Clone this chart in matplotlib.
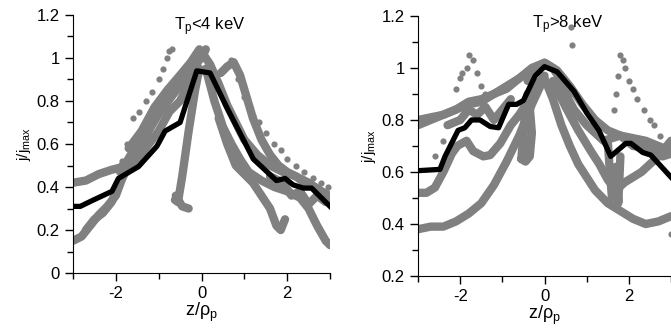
import matplotlib
matplotlib.use("Agg")
import matplotlib.pyplot as plt
from matplotlib.ticker import FixedLocator

plt.rcParams['font.family'] = ['Liberation Sans', 'DejaVu Sans']
plt.rcParams['mathtext.default'] = 'regular'

GRAY = '#808080'

# ---- left panel (Tp < 4 keV) ----
left_avg_x = [-3.0, -2.83, -2.52, -2.09, -1.94, -1.47, -1.04, -0.85, -0.50, -0.11, 0.20, 0.59, 1.21, 1.75, 1.95, 2.14, 2.38, 2.57, 3.0]
left_avg_y = [0.31, 0.31, 0.34, 0.38, 0.44, 0.495, 0.59, 0.66, 0.70, 0.94, 0.93, 0.77, 0.53, 0.43, 0.44, 0.41, 0.395, 0.395, 0.31]

left_curves = [
    ([-3, -2.7, -2.4, -2.1, -1.9, -1.7, -1.5, -1.3, -1.1, -0.9, -0.7, -0.5, -0.3, -0.1, 0.0],
     [0.42, 0.43, 0.46, 0.48, 0.49, 0.52, 0.57, 0.64, 0.71, 0.77, 0.83, 0.9, 0.96, 1.02, 1.03]),
    ([-3, -2.8, -2.6, -2.4, -2.2, -2.0, -1.85, -1.7, -1.5],
     [0.15, 0.17, 0.22, 0.27, 0.31, 0.36, 0.44, 0.5, 0.56]),
    ([-2.7, -2.5, -2.3, -2.1, -1.9],
     [0.2, 0.25, 0.28, 0.33, 0.42]),
    ([-1.9, -1.6, -1.3, -1.0, -0.7, -0.4, -0.2, 0.0, 0.1],
     [0.47, 0.55, 0.64, 0.74, 0.82, 0.9, 0.96, 1.0, 1.04]),
    ([-1.8, -1.5, -1.2, -0.9, -0.6, -0.35, -0.15, 0.05],
     [0.5, 0.6, 0.7, 0.8, 0.87, 0.92, 0.98, 1.02]),
    ([-1.7, -1.4, -1.1, -0.8, -0.5, -0.25, -0.05],
     [0.58, 0.66, 0.77, 0.85, 0.92, 0.98, 1.04]),
    ([-1.6, -1.3, -1.0, -0.75, -0.5, -0.3, -0.1],
     [0.5, 0.58, 0.66, 0.75, 0.8, 0.88, 0.97]),
    ([-0.62, -0.55, -0.45, -0.3, -0.15, -0.05],
     [0.34, 0.33, 0.45, 0.66, 0.85, 0.95]),
    ([-0.6, -0.45, -0.3], [0.36, 0.31, 0.3]),
    ([0.0, 0.2, 0.4, 0.6, 0.8, 1.0, 1.3, 1.6, 1.9, 2.2, 2.5, 2.8, 3.0],
     [1.03, 0.97, 0.88, 0.78, 0.7, 0.62, 0.55, 0.5, 0.47, 0.45, 0.42, 0.38, 0.35]),
    ([0.1, 0.3, 0.5, 0.7, 0.9, 1.1, 1.4, 1.7, 2.0, 2.3, 2.5, 2.7, 2.9, 3.0],
     [0.95, 0.8, 0.68, 0.6, 0.53, 0.47, 0.43, 0.4, 0.38, 0.35, 0.3, 0.22, 0.15, 0.13]),
    ([0.4, 0.6, 0.8, 1.0, 1.2, 1.4, 1.6, 1.75, 1.85, 1.95],
     [0.72, 0.6, 0.5, 0.46, 0.42, 0.36, 0.3, 0.22, 0.2, 0.25]),
    ([0.45, 0.6, 0.75, 0.9, 1.05, 1.2, 1.4, 1.6, 1.8, 2.0, 2.2, 2.4, 2.6, 2.8, 3.0],
     [0.93, 0.96, 0.98, 0.92, 0.82, 0.72, 0.62, 0.55, 0.5, 0.47, 0.45, 0.42, 0.4, 0.38, 0.36]),
    ([1.6, 1.9, 2.1, 2.3, 2.5, 2.7, 2.9, 3.0],
     [0.45, 0.42, 0.36, 0.38, 0.32, 0.36, 0.33, 0.35]),
]
left_dots_x = [-1.95, -1.85, -1.75, -1.6, -1.45, -1.3, -1.15, -1.0, -0.9, -0.8, -0.75, -0.7,
               0.7, 0.85, 1.0, 1.2, 1.35, 1.5, 1.7, 1.85, 2.0, 2.2, 2.4, 2.6, 2.8, 2.95]
left_dots_y = [0.48, 0.52, 0.6, 0.72, 0.75, 0.8, 0.84, 0.9, 0.95, 1.0, 1.03, 1.04,
               0.99, 0.9, 0.82, 0.73, 0.7, 0.65, 0.6, 0.57, 0.53, 0.5, 0.47, 0.44, 0.42, 0.4]

# ---- right panel (Tp > 8 keV) ----
right_avg_x = [-3.0, -2.48, -2.36, -2.05, -1.89, -1.73, -1.53, -1.29, -1.09, -0.85, -0.66, -0.50, -0.22, 0.0, 0.30, 0.70, 1.01, 1.29, 1.57, 1.93, 2.05, 2.33, 2.52, 3.0]
right_avg_y = [0.605, 0.61, 0.66, 0.76, 0.77, 0.80, 0.80, 0.775, 0.77, 0.86, 0.86, 0.875, 0.97, 1.005, 0.985, 0.91, 0.825, 0.76, 0.66, 0.71, 0.71, 0.675, 0.665, 0.58]

right_curves = [
    ([-3, -2.7, -2.4, -2.1, -1.8, -1.5, -1.2, -0.9, -0.6, -0.3, 0.0, 0.3, 0.6, 0.9, 1.2, 1.5, 1.8, 2.1, 2.4, 2.7, 3.0],
     [0.8, 0.81, 0.82, 0.84, 0.87, 0.88, 0.9, 0.92, 0.96, 1.0, 1.02, 0.99, 0.93, 0.86, 0.8, 0.76, 0.74, 0.73, 0.72, 0.7, 0.68]),
    ([-3, -2.7, -2.4, -2.1, -1.8, -1.5, -1.2, -0.9, -0.6, -0.3],
     [0.78, 0.8, 0.82, 0.84, 0.86, 0.87, 0.9, 0.93, 0.96, 0.99]),
    ([-2.3, -2.0, -1.8, -1.6, -1.4, -1.2, -1.0, -0.8],
     [0.78, 0.8, 0.84, 0.82, 0.85, 0.8, 0.84, 0.88]),
    ([-3, -2.8, -2.6, -2.4, -2.2, -2.07, -1.85, -1.69, -1.45, -1.29, -1.05, -0.8, -0.6, -0.4, -0.2, 0.0],
     [0.52, 0.52, 0.54, 0.6, 0.67, 0.70, 0.72, 0.68, 0.66, 0.665, 0.71, 0.78, 0.82, 0.87, 0.93, 0.97]),
    ([-3, -2.7, -2.4, -2.1, -1.8, -1.5, -1.2, -0.9, -0.6, -0.3, -0.1, 0.0, 0.2, 0.4, 0.6, 0.8, 1.0, 1.2, 1.5, 1.8, 2.1, 2.4, 2.7, 3.0],
     [0.38, 0.39, 0.39, 0.41, 0.44, 0.48, 0.55, 0.64, 0.74, 0.86, 0.93, 0.96, 0.88, 0.78, 0.7, 0.63, 0.58, 0.53, 0.48, 0.45, 0.42, 0.4, 0.41, 0.43]),
    ([-0.4, -0.2, 0.0, 0.2, 0.4, 0.6],
     [0.95, 0.99, 1.02, 1.0, 0.95, 0.9]),
    ([0.2, 0.5, 0.8, 1.1, 1.3, 1.5, 1.7, 1.9, 2.3, 2.7, 3.0],
     [0.95, 0.85, 0.76, 0.68, 0.63, 0.57, 0.53, 0.56, 0.6, 0.66, 0.72]),
    ([0.4, 0.7, 1.0, 1.2, 1.4, 1.6, 1.8, 2.1, 2.5, 2.8, 3.0],
     [0.93, 0.84, 0.78, 0.75, 0.72, 0.73, 0.74, 0.7, 0.69, 0.66, 0.67]),
    ([1.5, 1.55, 1.6, 1.7, 1.75, 1.8], [0.72, 0.6, 0.5, 0.62, 0.48, 0.66]),
    ([-0.55, -0.5, -0.45, -0.4, -0.35, -0.3, -0.35, -0.45, -0.55],
     [0.65, 0.75, 0.85, 0.9, 0.85, 0.75, 0.66, 0.64, 0.65]),
]
right_dots_x = [-2.1, -2.0, -1.95, -1.85, -1.8, -1.7, -1.6, -1.5, -1.4, -2.4, -2.6, 0.64, 0.65,
                1.65, 1.7, 1.75, 1.8, 1.85, 1.9, 2.0, 2.1, 2.2, 2.35, 2.5, 2.6, 2.75, 2.9, 3.0]
right_dots_y = [0.92, 0.96, 0.98, 1.0, 1.05, 1.03, 0.98, 0.93, 0.9, 0.72, 0.66, 1.157, 1.09,
                0.84, 0.9, 0.97, 1.05, 1.03, 1.0, 0.95, 0.92, 0.88, 0.84, 0.8, 0.78, 0.74, 0.7, 0.36]


def style_axes(ax, ymin, ymax, yticks, ylabels):
    ax.spines['top'].set_visible(False)
    ax.spines['right'].set_visible(False)
    ax.set_xlim(-3, 3)
    ax.set_ylim(ymin, ymax)
    ax.xaxis.set_major_locator(FixedLocator([-2, 0, 2]))
    ax.xaxis.set_minor_locator(FixedLocator([-3, -1, 1, 3]))
    ax.set_xticklabels(['-2', '0', '2'])
    ax.set_yticks(yticks)
    ax.set_yticklabels(ylabels)
    ax.yaxis.set_minor_locator(FixedLocator([v + 0.1 for v in yticks[:-1]]))
    ax.tick_params(which='major', length=6, width=1, labelsize=12, direction='out')
    ax.tick_params(which='minor', length=4, width=1, direction='out')
    ax.set_xlabel('z/ρ$_p$', fontsize=13, labelpad=0)
    ax.set_ylabel('j/j$_{max}$', fontsize=11, labelpad=3)


def draw_panel(ax, curves, dots_x, dots_y, avg_x, avg_y):
    for cx, cy in curves:
        ax.plot(cx, cy, color=GRAY, lw=6, solid_capstyle='round',
                solid_joinstyle='round', zorder=1)
    ax.scatter(dots_x, dots_y, s=20, color=GRAY, lw=0, zorder=1, clip_on=False)
    ax.plot(avg_x, avg_y, color='black', lw=3.8, zorder=3)


fig = plt.figure(figsize=(6.71, 3.31), dpi=100)
ax1 = fig.add_axes([0.1088, 0.175, 0.383, 0.78])
ax2 = fig.add_axes([0.623, 0.166, 0.377, 0.786])

draw_panel(ax1, left_curves, left_dots_x, left_dots_y, left_avg_x, left_avg_y)
style_axes(ax1, 0, 1.2, [0, 0.2, 0.4, 0.6, 0.8, 1.0, 1.2],
           ['0', '0.2', '0.4', '0.6', '0.8', '1', '1.2'])
ax1.text(0.2, 1.145, 'T$_p$<4 keV', fontsize=12, ha='center', va='center')

draw_panel(ax2, right_curves, right_dots_x, right_dots_y, right_avg_x, right_avg_y)
style_axes(ax2, 0.2, 1.2, [0.2, 0.4, 0.6, 0.8, 1.0, 1.2],
           ['0.2', '0.4', '0.6', '0.8', '1', '1.2'])
ax2.text(0.55, 1.165, 'T$_p$>8 keV', fontsize=12, ha='center', va='center')

fig.savefig('out.png', dpi=100)
